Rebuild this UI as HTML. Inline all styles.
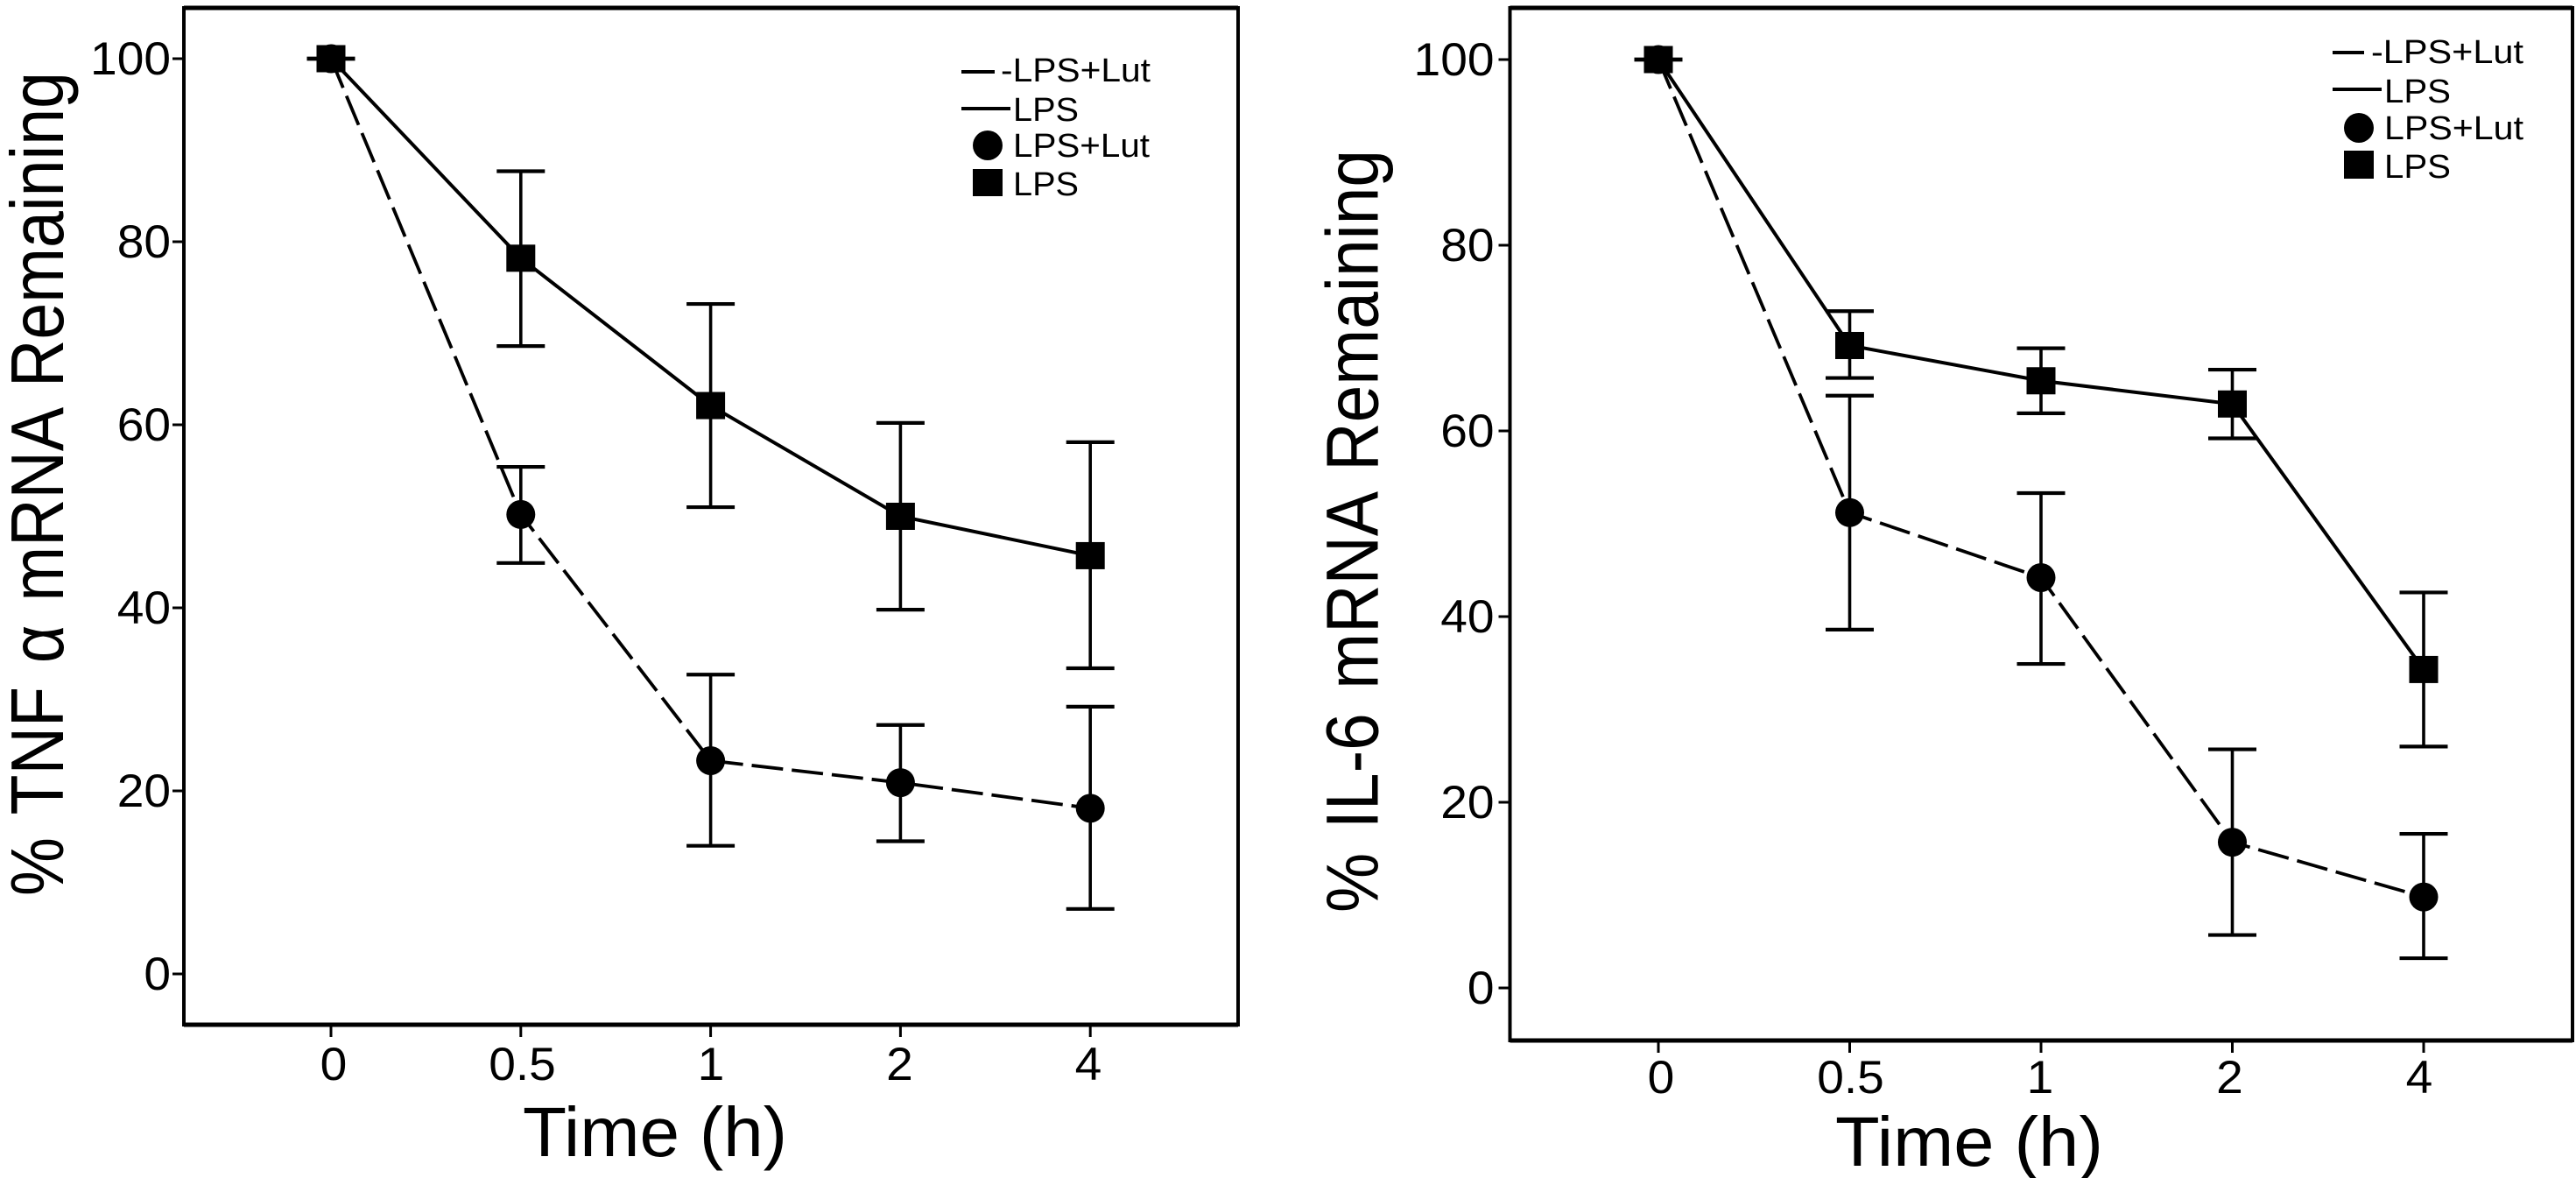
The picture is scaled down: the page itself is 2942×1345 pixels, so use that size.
<!DOCTYPE html>
<html lang="en">
<head>
<meta charset="utf-8">
<title>TNF α and IL-6 mRNA Remaining</title>
<style>
html,body{margin:0;padding:0;background:#fff;}
svg{display:block;}
text{font-family:"Liberation Sans",sans-serif;fill:#000;}
</style>
</head>
<body>
<svg id="figure" xmlns="http://www.w3.org/2000/svg" width="2942" height="1345" viewBox="0 0 2942 1345">
  <rect width="2942" height="1345" fill="#fff"/>

  <g id="panelA"></g>
  <text font-size="75" word-spacing="6" textLength="941" lengthAdjust="spacingAndGlyphs" transform="translate(72,1023) rotate(-90) scale(1,1.144)">% TNF α mRNA Remaining</text>
  <text font-size="80" x="597" y="1320" textLength="302" lengthAdjust="spacingAndGlyphs">Time (h)</text>
  <g>
    <line x1="1098" y1="82" x2="1136" y2="82" stroke="#000" stroke-width="4"/>
    <text font-size="38" x="1143" y="93" textLength="171" lengthAdjust="spacingAndGlyphs">-LPS+Lut</text>
    <line x1="1098" y1="124" x2="1154" y2="124" stroke="#000" stroke-width="4"/>
    <text font-size="38" x="1157" y="138" textLength="75" lengthAdjust="spacingAndGlyphs">LPS</text>
    <circle cx="1128" cy="166" r="17"/>
    <text font-size="38" x="1157" y="179" textLength="156" lengthAdjust="spacingAndGlyphs">LPS+Lut</text>
    <rect x="1111" y="193" width="34" height="31"/>
    <text font-size="38" x="1157" y="223" textLength="75" lengthAdjust="spacingAndGlyphs">LPS</text>
  </g>

  <g id="panelB"></g>
  <text font-size="76" word-spacing="6" textLength="871" lengthAdjust="spacingAndGlyphs" transform="translate(1573.5,1042) rotate(-90) scale(1,1.11)">% IL-6 mRNA Remaining</text>
  <text font-size="80" x="2096" y="1331" textLength="306" lengthAdjust="spacingAndGlyphs">Time (h)</text>
  <g>
    <line x1="2664" y1="60" x2="2700" y2="60" stroke="#000" stroke-width="4"/>
    <text font-size="38" x="2708" y="72" textLength="174" lengthAdjust="spacingAndGlyphs">-LPS+Lut</text>
    <line x1="2664" y1="102" x2="2720" y2="102" stroke="#000" stroke-width="4"/>
    <text font-size="38" x="2723" y="117" textLength="76" lengthAdjust="spacingAndGlyphs">LPS</text>
    <circle cx="2694" cy="146" r="17"/>
    <text font-size="38" x="2723" y="159" textLength="159" lengthAdjust="spacingAndGlyphs">LPS+Lut</text>
    <rect x="2677" y="172" width="34" height="32"/>
    <text font-size="38" x="2723" y="203" textLength="76" lengthAdjust="spacingAndGlyphs">LPS</text>
  </g>
</svg>

<script>
// Shared axis labels
const timeLabels = ['0', '0.5', '1', '2', '4'];
const yTicks = [0, 20, 40, 60, 80, 100];

// TNF alpha panel values
const tnfLps = [100, 78.2, 62.1, 50, 45.7];
const tnfLpsUpper = [100, 87.7, 73.2, 60.2, 58.1];
const tnfLpsLower = [100, 68.6, 51, 39.8, 33.4];
const tnfLut = [100, 50.2, 23.3, 20.9, 18.1];
const tnfLutUpper = [100, 55.4, 32.7, 27.2, 29.2];
const tnfLutLower = [100, 44.9, 14, 14.5, 7.1];

// IL-6 panel values
const il6Lps = [100, 69.2, 65.4, 62.9, 34.3];
const il6LpsUpper = [100, 72.9, 68.9, 66.6, 42.6];
const il6LpsLower = [100, 65.7, 61.9, 59.2, 26];
const il6Lut = [100, 51.2, 44.2, 15.7, 9.8];
const il6LutUpper = [100, 63.8, 53.3, 25.7, 16.6];
const il6LutLower = [100, 38.6, 34.9, 5.7, 3.2];

const NS = 'http://www.w3.org/2000/svg';

function make(parent, tag, attrs) {
  const el = document.createElementNS(NS, tag);
  for (const k in attrs) el.setAttribute(k, attrs[k]);
  parent.appendChild(el);
  return el;
}

function pathThrough(xs, ys) {
  return xs.map((x, i) => (i ? 'L' : 'M') + x + ' ' + ys[i]).join(' ');
}

function drawPanel(root, box, lps, lpsUp, lpsLow, lut, lutUp, lutLow) {
  const xScale = i => box.x0 + i * box.xStep;
  const yScale = v => box.y0 - v * box.yUnit;

  const frame = make(root, 'rect', {x: box.left, y: box.top, width: box.right - box.left, height: box.bottom - box.top, fill: 'none', stroke: '#000', 'stroke-width': 4});
  
  
  const topEdge = make(root, 'line', {x1: box.left, x2: box.right, y1: box.top, y2: box.top, stroke: '#000', 'stroke-width': 5});
  
  
  const bottomEdge = make(root, 'line', {x1: box.left, x2: box.right, y1: box.bottom, y2: box.bottom, stroke: '#000', 'stroke-width': 5});
  
  

  yTicks.forEach(v => {
    const tick = make(root, 'line', {x1: box.left - 13, x2: box.left, y1: yScale(v), y2: yScale(v), stroke: '#000', 'stroke-width': 3});
    
    
    const label = make(root, 'text', {'font-size': 53, 'text-anchor': 'end', transform: 'translate(' + (box.left - box.yLabelGap) + ',' + (yScale(v) + 18) + ') scale(1.04,1)'});
    
    
    label.textContent = v;
  });

  timeLabels.forEach((t, i) => {
    const tick = make(root, 'line', {x1: xScale(i), x2: xScale(i), y1: box.bottom, y2: box.bottom + 14, stroke: '#000', 'stroke-width': 3});
    
    
    const label = make(root, 'text', {'font-size': 53, 'text-anchor': 'middle', transform: 'translate(' + (box.xLabel0 + i * box.xLabelStep) + ',' + (box.bottom + box.xLabelDrop) + ') scale(1.04,1)'});
    
    
    label.textContent = t;
  });

  const xs = timeLabels.map((t, i) => xScale(i));

  const lutLine = make(root, 'path', {d: pathThrough(xs, lut.map(yScale)), fill: 'none', stroke: '#000', 'stroke-width': 3.8, 'stroke-dasharray': '36 10'});
  
  
  const lpsLine = make(root, 'path', {d: pathThrough(xs, lps.map(yScale)), fill: 'none', stroke: '#000', 'stroke-width': 4});
  
  

  const drawErrors = (up, low) => {
    xs.forEach((x, i) => {
      const bar = make(root, 'line', {x1: x, x2: x, y1: yScale(up[i]), y2: yScale(low[i]), stroke: '#000', 'stroke-width': 3.6});
      
      
      const capTop = make(root, 'line', {x1: x - 27.5, x2: x + 27.5, y1: yScale(up[i]), y2: yScale(up[i]), stroke: '#000', 'stroke-width': 4.2});
      
      
      const capLow = make(root, 'line', {x1: x - 27.5, x2: x + 27.5, y1: yScale(low[i]), y2: yScale(low[i]), stroke: '#000', 'stroke-width': 4.2});
      
      
    });
  };
  drawErrors(lutUp, lutLow);
  drawErrors(lpsUp, lpsLow);

  xs.forEach((x, i) => {
    const dot = make(root, 'circle', {cx: x, cy: yScale(lut[i]), r: 16.5, fill: '#000'});
    
    
  });
  xs.forEach((x, i) => {
    const square = make(root, 'rect', {x: x - 16.5, y: yScale(lps[i]) - 15.5, width: 33, height: 31, fill: '#000'});
    
    
  });
}

drawPanel(document.getElementById('panelA'),
  {left: 210, right: 1414, top: 9, bottom: 1170, x0: 378, xStep: 216.8, y0: 1112, yUnit: 10.45, yLabelGap: 15, xLabel0: 381, xLabelStep: 215.5, xLabelDrop: 63},
  tnfLps, tnfLpsUpper, tnfLpsLower, tnfLut, tnfLutUpper, tnfLutLower);

drawPanel(document.getElementById('panelB'),
  {left: 1724.5, right: 2938, top: 9, bottom: 1188, x0: 1894, xStep: 218.5, y0: 1128, yUnit: 10.6, yLabelGap: 18, xLabel0: 1897, xLabelStep: 216.5, xLabelDrop: 60},
  il6Lps, il6LpsUpper, il6LpsLower, il6Lut, il6LutUpper, il6LutLower);
</script>
</body>
</html>
